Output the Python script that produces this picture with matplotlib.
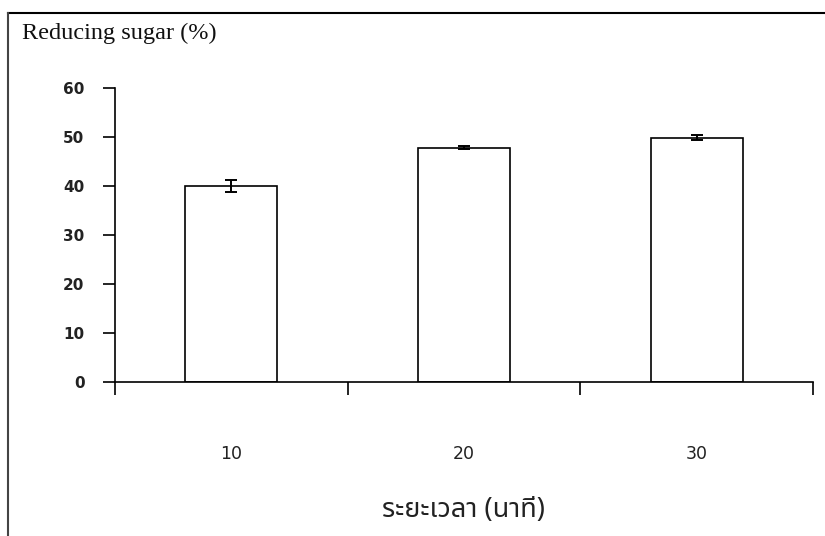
import matplotlib
matplotlib.use("Agg")
import matplotlib.pyplot as plt
from matplotlib.lines import Line2D
import numpy as np

# reaction time (minutes) vs reducing sugar
times = ['10', '20', '30']
sugar = [40.0, 47.8, 49.9]
sugar_err = [1.2, 0.3, 0.5]

fig = plt.figure(figsize=(8.25, 5.36), dpi=100)
ax = fig.add_axes([0.1394, 0.2873, 0.8461, 0.5485])

x = np.arange(len(times))
ax.bar(x, sugar, width=0.395, color='white', edgecolor='black', linewidth=1.2,
       yerr=sugar_err, error_kw=dict(ecolor='black', elinewidth=1.4, capsize=4.3, capthick=1.4))

ax.set_xlim(-0.5, 2.5)
ax.set_ylim(0, 60)
ax.set_yticks(range(0, 61, 10))
ax.tick_params(axis='y', direction='out', length=9, width=1.2, pad=13)
ax.set_yticklabels([str(v) for v in range(0, 61, 10)], family='DejaVu Sans',
                   fontsize=11, fontweight='bold', color='#222222')

# category boundaries carry the tick marks, labels sit at the centres
ax.set_xticks([-0.5, 0.5, 1.5, 2.5])
ax.set_xticklabels([])
ax.tick_params(axis='x', which='major', direction='out', length=9, width=1.2)
ax.set_xticks(x, minor=True)
ax.set_xticklabels(times, minor=True, family='DejaVu Sans', fontsize=12.5, color='#222222')
ax.tick_params(axis='x', which='minor', length=0, pad=45)

for s in ['top', 'right']:
    ax.spines[s].set_visible(False)
for s in ['left', 'bottom']:
    ax.spines[s].set_linewidth(1.2)

fig.text(22 / 825, 1 - 33 / 536, 'Reducing sugar (%)', family='Liberation Serif',
         fontsize=17.5, va='center', ha='left', color='#111111')
fig.text(463 / 825, 1 - 510 / 536, 'ระยะเวลา (นาที)', fontsize=19.5, ha='center', va='center',
         family=['Noto Sans Thai', 'Loma', 'Tlwg Typo', 'Garuda', 'Noto Sans', 'DejaVu Sans'],
         color='#222222')

# frame lines along the top and left edge
fig.add_artist(Line2D([7.5 / 825, 1], [1 - 12.5 / 536, 1 - 12.5 / 536], color='black', linewidth=1.5))
fig.add_artist(Line2D([7.5 / 825, 7.5 / 825], [0, 1 - 12.5 / 536], color='#444444', linewidth=1.5))

fig.savefig('out.png', dpi=100)
